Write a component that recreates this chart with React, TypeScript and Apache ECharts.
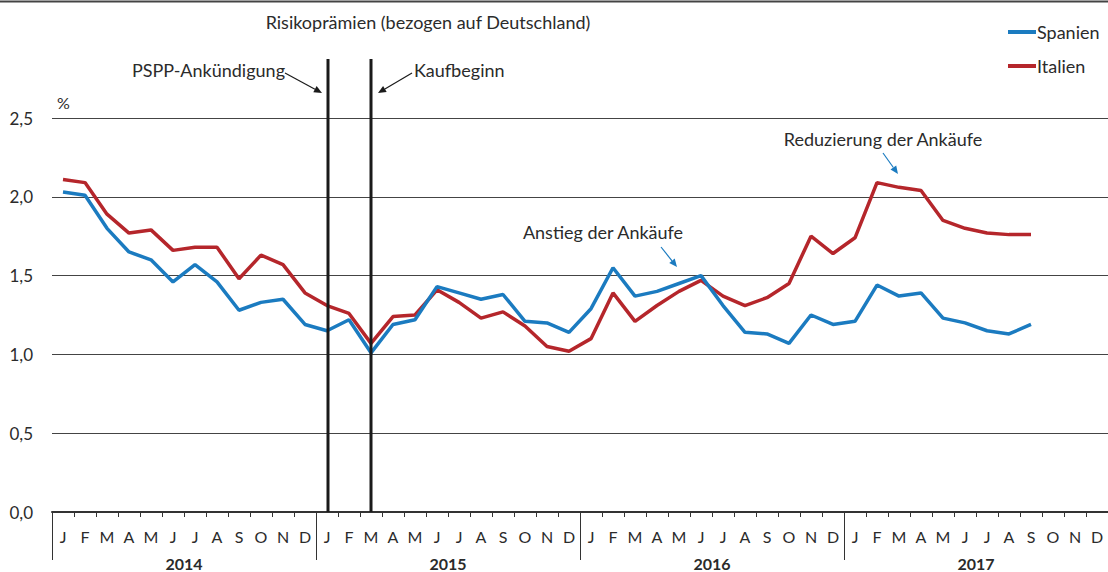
import React, { useEffect, useRef } from "react";
import * as echarts from "echarts";

const monthLetters = ["J", "F", "M", "A", "M", "J", "J", "A", "S", "O", "N", "D"];
const years = ["2014", "2015", "2016", "2017"];
const categories = years.flatMap((y) => monthLetters.map((_, i) => `${y}-${i + 1}`));

const spanien = [
  2.03, 2.01, 1.8, 1.65, 1.6, 1.46, 1.57, 1.46, 1.28, 1.33, 1.35, 1.19,
  1.15, 1.22, 1.01, 1.19, 1.22, 1.43, 1.39, 1.35, 1.38, 1.21, 1.2, 1.14,
  1.29, 1.55, 1.37, 1.4, 1.45, 1.5, 1.31, 1.14, 1.13, 1.07, 1.25, 1.19,
  1.21, 1.44, 1.37, 1.39, 1.23, 1.2, 1.15, 1.13, 1.19,
];
const italien = [
  2.11, 2.09, 1.89, 1.77, 1.79, 1.66, 1.68, 1.68, 1.48, 1.63, 1.57, 1.39,
  1.31, 1.26, 1.07, 1.24, 1.25, 1.41, 1.33, 1.23, 1.27, 1.18, 1.05, 1.02,
  1.1, 1.39, 1.21, 1.31, 1.4, 1.47, 1.37, 1.31, 1.36, 1.45, 1.75, 1.64,
  1.74, 2.09, 2.06, 2.04, 1.85, 1.8, 1.77, 1.76, 1.76,
];
const yTicks = [0, 0.5, 1, 1.5, 2, 2.5];
const eventMonths = [
  { label: "PSPP-Ankündigung", index: 12 },
  { label: "Kaufbeginn", index: 14 },
];

const FONT = "Lato";
const TXT = "#2b2b2b";
const BLUE = "#1b7bc0";
const RED = "#b5262b";

function arrow(x1: number, y1: number, x2: number, y2: number, color: string) {
  const dx = x2 - x1;
  const dy = y2 - y1;
  const len = Math.sqrt(dx * dx + dy * dy);
  const ux = dx / len;
  const uy = dy / len;
  const hl = 8;
  const hw = 3.5;
  const bx = x2 - ux * hl;
  const by = y2 - uy * hl;
  return [
    {
      type: "line",
      shape: { x1, y1, x2: bx, y2: by },
      style: { stroke: color, lineWidth: 1.2 },
      silent: true,
    },
    {
      type: "polygon",
      shape: {
        points: [
          [x2, y2],
          [bx - uy * hw, by + ux * hw],
          [bx + uy * hw, by - ux * hw],
        ],
      },
      style: { fill: color },
      silent: true,
    },
  ];
}

export default function App() {
  const ref = useRef<HTMLDivElement>(null);
  useEffect(() => {
    document.body.style.margin = "0";
    const chart = echarts.init(ref.current!, null, { renderer: "svg" });
    chart.setOption({
      animation: false,
      textStyle: { fontFamily: FONT },
      grid: { left: 52, width: 1060, top: 118, height: 394, containLabel: false },
      legend: {
        orient: "vertical",
        left: 1003,
        top: 18,
        icon: "rect",
        itemWidth: 28,
        itemHeight: 4,
        itemGap: 16,
        textStyle: { fontFamily: FONT, fontSize: 18, color: TXT, padding: [0, 0, 0, -4] },
        data: ["Spanien", "Italien"],
      },
      xAxis: [
        {
          type: "category",
          data: categories,
          boundaryGap: true,
          axisLine: { lineStyle: { color: "#333", width: 2 } },
          axisTick: { show: true, interval: 0, length: 5, lineStyle: { color: "#333" } },
          axisLabel: {
            interval: 0,
            margin: 16,
            fontFamily: FONT,
            fontSize: 16,
            color: TXT,
            formatter: (_v: string, i: number) => monthLetters[i % 12],
          },
        },
        {
          type: "category",
          data: years,
          position: "bottom",
          boundaryGap: true,
          axisLine: { show: false },
          axisTick: { show: true, interval: 0, length: 48, lineStyle: { color: "#333" } },
          axisLabel: {
            margin: 43,
            fontFamily: FONT,
            fontSize: 16,
            fontWeight: "bold",
            color: TXT,
          },
        },
      ],
      yAxis: {
        type: "value",
        min: yTicks[0],
        max: yTicks[yTicks.length - 1],
        interval: 0.5,
        axisLine: { show: false },
        axisTick: { show: false },
        splitLine: { lineStyle: { color: "#444", width: 1 } },
        axisLabel: {
          margin: 19,
          fontFamily: FONT,
          fontSize: 17,
          color: TXT,
          formatter: (v: number) => v.toFixed(1).replace(".", ","),
        },
      },
      series: [
        {
          name: "Spanien",
          type: "line",
          data: spanien,
          symbol: "none",
          color: BLUE,
          lineStyle: { width: 3.5, color: BLUE },
          z: 3,
        },
        {
          name: "Italien",
          type: "line",
          data: italien,
          symbol: "none",
          color: RED,
          lineStyle: { width: 3.5, color: RED },
          z: 2,
        },
      ],
    });

    const px = (i: number, v: number) =>
      chart.convertToPixel({ xAxisIndex: 0, yAxisIndex: 0 }, [i, v]) as number[];
    const xPspp = px(eventMonths[0].index, 0)[0] + 1;
    const xKauf = px(eventMonths[1].index, 0)[0];
    const yZero = px(0, 0)[1];
    const xAnstieg = px(29, 0)[0];
    const xRed = px(37, 0)[0];

    const graphics: any[] = [
      {
        type: "line",
        shape: { x1: 0, y1: 1.5, x2: 1108, y2: 1.5 },
        style: { stroke: "#444", lineWidth: 2 },
      },
      {
        type: "text",
        x: 428,
        y: 22,
        style: {
          text: "Risikoprämien (bezogen auf Deutschland)",
          font: `18px ${FONT}`,
          fill: TXT,
          align: "center",
          verticalAlign: "middle",
        },
      },
      {
        type: "text",
        x: 57,
        y: 102,
        style: { text: "%", font: `16px ${FONT}`, fill: TXT, verticalAlign: "middle" },
      },
      {
        type: "line",
        shape: { x1: xPspp, y1: 59, x2: xPspp, y2: yZero },
        style: { stroke: "#1a1a1a", lineWidth: 3 },
        z: 10,
      },
      {
        type: "line",
        shape: { x1: xKauf, y1: 59, x2: xKauf, y2: yZero },
        style: { stroke: "#1a1a1a", lineWidth: 3 },
        z: 10,
      },
      {
        type: "text",
        x: xPspp - 43,
        y: 70,
        style: {
          text: eventMonths[0].label,
          font: `18px ${FONT}`,
          fill: TXT,
          align: "right",
          verticalAlign: "middle",
        },
      },
      ...arrow(xPspp - 43, 73, xPspp - 6, 93, "#1a1a1a"),
      {
        type: "text",
        x: xKauf + 43,
        y: 70,
        style: {
          text: eventMonths[1].label,
          font: `18px ${FONT}`,
          fill: TXT,
          align: "left",
          verticalAlign: "middle",
        },
      },
      ...arrow(xKauf + 41, 73, xKauf + 7, 93, "#1a1a1a"),
      {
        type: "text",
        x: 603,
        y: 232,
        style: {
          text: "Anstieg der Ankäufe",
          font: `18px ${FONT}`,
          fill: TXT,
          align: "center",
          verticalAlign: "middle",
        },
      },
      ...arrow(xAnstieg - 40, 247, xAnstieg - 24, 267, BLUE),
      {
        type: "text",
        x: 883,
        y: 139,
        style: {
          text: "Reduzierung der Ankäufe",
          font: `18px ${FONT}`,
          fill: TXT,
          align: "center",
          verticalAlign: "middle",
        },
      },
      ...arrow(xRed + 6, 153, xRed + 21, 174, BLUE),
    ];
    chart.setOption({ graphic: graphics });
    return () => chart.dispose();
  }, []);
  return <div ref={ref} style={{ width: 1108, height: 572 }} />;
}
